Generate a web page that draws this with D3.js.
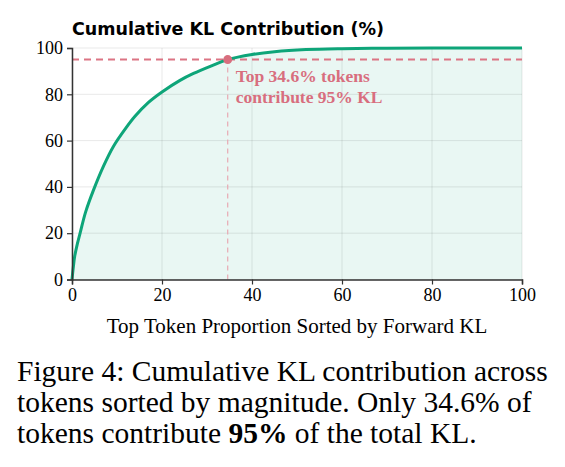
<!DOCTYPE html>
<html><head><meta charset="utf-8">
<script src="https://d3js.org/d3.v7.min.js"></script>
<style>body{margin:0;background:#fff}</style>
</head><body>
<div id="chart"></div>
<script>
// data
const xs = [0, 0.3, 0.6, 1.2, 1.8, 3, 4.75, 7, 9.2, 12, 14, 17, 20, 24, 27, 31, 34.6, 40, 45, 52, 60, 70, 80, 90, 100];
const ys = [0, 5.5, 10, 15.5, 20, 29, 38.5, 49, 57.5, 65.5, 70.5, 76.5, 81, 86, 89, 92.3, 95, 97.2, 98.4, 99.3, 99.7, 99.9, 100, 100, 100];
const ticks = [0, 20, 40, 60, 80, 100];
const threshold = 95, cut = 34.6;

const W = 565, H = 467;
const serif = "Liberation Serif, Times New Roman, serif";
const svg = d3.select("#chart").append("svg").attr("width", W).attr("height", H);
const x = d3.scaleLinear().domain([0, 100]).range([72, 522]);
const y = d3.scaleLinear().domain([0, 100]).range([279.5, 48]);
const data = xs.map((v, i) => ({x: v, y: ys[i]}));

// fill
svg.append("path").datum(data)
  .attr("d", d3.area().x(d => x(d.x)).y0(y(0)).y1(d => y(d.y)).curve(d3.curveCatmullRom))
  .attr("fill", "#0ea579").attr("fill-opacity", 0.09);

// grid
svg.append("g").selectAll("line").data(ticks).join("line")
  .attr("x1", d => x(d)).attr("x2", d => x(d)).attr("y1", y(0)).attr("y2", y(100))
  .attr("stroke", "#000").attr("stroke-opacity", 0.09);
svg.append("g").selectAll("line").data(ticks).join("line")
  .attr("x1", x(0)).attr("x2", x(100)).attr("y1", d => y(d)).attr("y2", d => y(d))
  .attr("stroke", "#000").attr("stroke-opacity", 0.09);

svg.append("line").attr("x1", x(cut)).attr("x2", x(cut)).attr("y1", y(0)).attr("y2", y(threshold))
  .attr("stroke", "#e8a9b3").attr("stroke-dasharray", "5,4").attr("stroke-width", 1.2);
svg.append("line").attr("x1", x(0)).attr("x2", x(100)).attr("y1", y(threshold)).attr("y2", y(threshold))
  .attr("stroke", "#dc7484").attr("stroke-dasharray", "7,5").attr("stroke-width", 2);
svg.append("path").datum(data)
  .attr("d", d3.line().x(d => x(d.x)).y(d => y(d.y)).curve(d3.curveCatmullRom))
  .attr("fill", "none").attr("stroke", "#0ea579").attr("stroke-width", 3);
svg.append("circle").attr("cx", x(cut)).attr("cy", y(threshold)).attr("r", 4.5).attr("fill", "#d86e7e");

// annotation
const ann = svg.append("text").style("font-family", serif).style("font-weight", "bold")
  .style("font-size", "17.5px").attr("fill", "#d86e7e");
ann.append("tspan").attr("x", x(cut) + 8).attr("y", 82).text("Top 34.6% tokens");
ann.append("tspan").attr("x", x(cut) + 8).attr("y", 103).text("contribute 95% KL");

// axes
const axX = svg.append("g").attr("transform", `translate(0,${y(0)})`)
  .call(d3.axisBottom(x).tickValues(ticks).tickSize(5).tickPadding(4));
const axY = svg.append("g").attr("transform", `translate(${x(0)},0)`)
  .call(d3.axisLeft(y).tickValues(ticks).tickSize(5).tickPadding(4));
[axX, axY].forEach(a => {
  a.attr("font-size", null).attr("font-family", null);
  a.selectAll("text").style("font-family", serif).style("font-size", "18px").attr("fill", "#000");
  a.select(".domain").attr("stroke", "#333").attr("stroke-width", 1.5);
  a.selectAll(".tick line").attr("stroke", "#333").attr("stroke-width", 1.2);
});

svg.append("text").attr("x", 72).attr("y", 35).style("font-family", "DejaVu Sans, sans-serif")
  .style("font-weight", "bold").style("font-size", "17.5px").text("Cumulative KL Contribution (%)");
svg.append("text").attr("x", (x(0) + x(100)) / 2).attr("y", 333).attr("text-anchor", "middle")
  .style("font-family", serif).style("font-size", "21px").text("Top Token Proportion Sorted by Forward KL");

// caption
const cap = svg.append("text").style("font-family", serif).style("font-size", "29.5px");
cap.append("tspan").attr("x", 17).attr("y", 381).text("Figure 4: Cumulative KL contribution across");
cap.append("tspan").attr("x", 17).attr("y", 412).text("tokens sorted by magnitude. Only 34.6% of");
const l3 = cap.append("tspan").attr("x", 17).attr("y", 443);
l3.append("tspan").text("tokens contribute ");
l3.append("tspan").style("font-weight", "bold").text("95%");
l3.append("tspan").text(" of the total KL.");
</script>
</body></html>
